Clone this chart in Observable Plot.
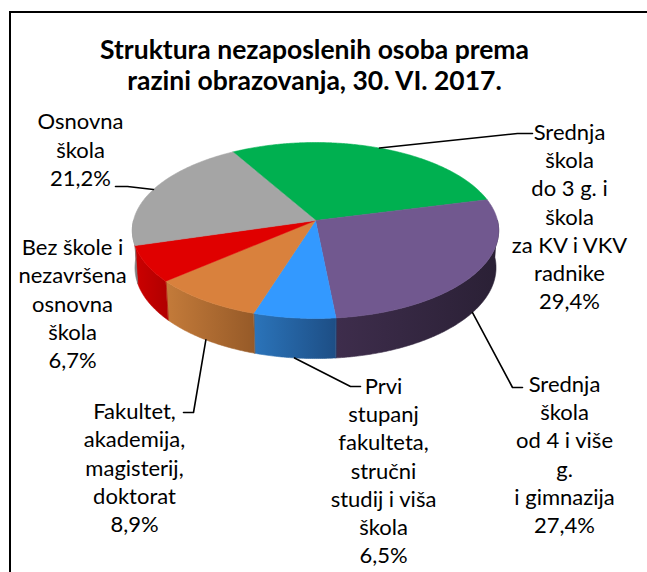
<!DOCTYPE html>
<html><head><meta charset="utf-8">
<script src="https://cdn.jsdelivr.net/npm/d3@7"></script>
<script src="https://cdn.jsdelivr.net/npm/@observablehq/plot@0.6"></script>
<style>
html,body{margin:0;padding:0;background:#fff;}
#wrap{position:relative;width:647px;height:572px;overflow:hidden;}
#frame{position:absolute;left:9px;top:11px;width:700px;height:700px;border-left:2px solid #000;border-top:2px solid #000;pointer-events:none;box-sizing:border-box;}
#wrap svg{position:absolute;left:0;top:0;}
</style></head><body>
<div id="wrap"><div id="frame"></div></div>
<script>
// ---------- data ----------
const titleLines = ["Struktura nezaposlenih osoba prema", "razini obrazovanja, 30. VI. 2017."];
const categories = [
  "Srednja škola do 3 g. i škola za KV i VKV radnike",
  "Srednja škola od 4 i više g. i gimnazija",
  "Prvi stupanj fakulteta, stručni studij i viša škola",
  "Fakultet, akademija, magisterij, doktorat",
  "Bez škole i nezavršena osnovna škola",
  "Osnovna škola"
];
const labelLines = [
  ["Srednja", "škola", "do 3 g. i", "škola", "za KV i VKV", "radnike"],
  ["Srednja", "škola", "od 4 i više", "g.", "i gimnazija"],
  ["Prvi", "stupanj", "fakulteta,", "stručni", "studij i viša", "škola"],
  ["Fakultet,", "akademija,", "magisterij,", "doktorat"],
  ["Bez škole i", "nezavršena", "osnovna", "škola"],
  ["Osnovna", "škola"]
];
const values = [29.4, 27.4, 6.5, 8.9, 6.7, 21.2];

// ---------- styles ----------
const topColors = ["#00B050", "#71588F", "#3399FF", "#D9813D", "#E00000", "#A5A5A5"];
const sideLight = ["#00903F", "#3E2D4C", "#2B74BA", "#C47B3A", "#CC0000", "#8C8C8C"];
const sideDark  = ["#007A35", "#2A2035", "#1D4E85", "#965A28", "#B00000", "#7A7A7A"];

// ---------- layout (perspective projection of the pie) ----------
const W = 647, H = 572;
const cx = 315, cy = 220;           // apex on screen
const phi = 28.5 * Math.PI / 180;   // elevation
const dist = 7.74, focal = 1408.7;  // camera distance (radius units), focal length
const thick = 0.2346;               // pie thickness (radius units)
const firstAngle = -30 * Math.PI / 180;
function proj(theta, h) {
  const u = Math.sin(theta), v = Math.cos(theta);
  const s = Math.sin(phi), c = Math.cos(phi);
  const z = v * c + dist - h * s;
  const yc = v * s + h * c;
  return [cx + focal * u / z, cy - focal * yc / z];
}
// label layout: text block centre, elbow and end of leader (null = no leader)
const labelLayout = [
  {x: 569, y: 215, ex: 517, lx: 532, ly: 133},
  {x: 564, y: 453, ex: 512, lx: 522, ly: 387},
  {x: 383, y: 469, ex: 350, lx: 360, ly: 386},
  {x: 134, y: 466, ex: 193, lx: 183, ly: 412},
  {x: 72,  y: 302, ex: null},
  {x: 80,  y: 148, ex: 127, lx: 115, ly: 186}
];

const arcs = d3.pie().sort(null).startAngle(firstAngle).endAngle(firstAngle + 2 * Math.PI)(values);
const fmt = v => v.toFixed(1).replace(".", ",") + "%";

// top faces
const topRows = [];
arcs.forEach((a, i) => {
  topRows.push({k: i, cat: categories[i], x: cx, y: cy});
  const n = Math.max(4, Math.ceil((a.endAngle - a.startAngle) / 0.01));
  for (let j = 0; j <= n; j++) {
    const t = a.startAngle + (a.endAngle - a.startAngle) * j / n;
    const [x, y] = proj(t, 0);
    topRows.push({k: i, cat: categories[i], x, y});
  }
});
// side faces (front half only)
const sideSets = [];
arcs.forEach((a, i) => {
  const t0 = Math.max(a.startAngle, Math.PI / 2), t1 = Math.min(a.endAngle, 3 * Math.PI / 2);
  if (t1 <= t0) return;
  const n = Math.max(4, Math.ceil((t1 - t0) / 0.01));
  const pts = [];
  for (let j = 0; j <= n; j++) { const t = t0 + (t1 - t0) * j / n; const [x, y] = proj(t, 0); pts.push({x, y}); }
  for (let j = n; j >= 0; j--) { const t = t0 + (t1 - t0) * j / n; const [x, y] = proj(t, -thick); pts.push({x, y}); }
  sideSets.push({i, pts});
});
// leaders
const leaderRows = [];
arcs.forEach((a, i) => {
  const L = labelLayout[i];
  if (L.ex == null) return;
  const mid = (a.startAngle + a.endAngle) / 2;
  const [x0, y0] = proj(mid, Math.cos(mid) < 0 ? -thick : 0);
  leaderRows.push({k: i, x: x0, y: y0}, {k: i, x: L.ex, y: L.ly}, {k: i, x: L.lx, y: L.ly});
});
// labels
const labelRows = arcs.map((a, i) => ({
  text: [...labelLines[i], fmt(values[i])].join("\n"),
  x: labelLayout[i].x, y: labelLayout[i].y
}));

const font = "Lato, 'Open Sans', sans-serif";
const svg = Plot.plot({
  width: W, height: H, margin: 0,
  x: {domain: [0, W], range: [0, W], axis: null},
  y: {domain: [0, H], range: [0, H], axis: null},
  color: {domain: categories, range: topColors},
  style: {background: "transparent", overflow: "visible"},
  marks: [
    ...sideSets.map(s => Plot.line(s.pts, {x: "x", y: "y", curve: "linear-closed", fill: `url(#side${s.i})`, stroke: `url(#side${s.i})`, strokeWidth: 0.6})),
    Plot.line(topRows, {x: "x", y: "y", z: "k", curve: "linear-closed", fill: "cat", stroke: "cat", strokeWidth: 0.6}),
    Plot.line(leaderRows, {x: "x", y: "y", z: "k", stroke: "#000", strokeWidth: 1.6, curve: "linear"}),
    Plot.text(labelRows, {x: "x", y: "y", text: "text", textAnchor: "middle", lineAnchor: "middle", lineHeight: 1.28, fontSize: 22, fontFamily: font, fill: "#000"}),
    Plot.text([titleLines.join("\n")], {x: () => 314, y: () => 64, text: d => d, textAnchor: "middle", lineAnchor: "middle", lineHeight: 1.18, fontSize: 26.5, fontWeight: "bold", fontFamily: font, fill: "#000"})
  ]
});
const defs = d3.select(svg).insert("defs", ":first-child");
sideSets.forEach(s => {
  const g = defs.append("linearGradient").attr("id", `side${s.i}`).attr("x1", 0).attr("x2", 1).attr("y1", 0).attr("y2", 0);
  g.append("stop").attr("offset", 0).attr("stop-color", sideLight[s.i]);
  g.append("stop").attr("offset", 1).attr("stop-color", sideDark[s.i]);
});
document.getElementById("wrap").prepend(svg);
</script>
</body></html>
